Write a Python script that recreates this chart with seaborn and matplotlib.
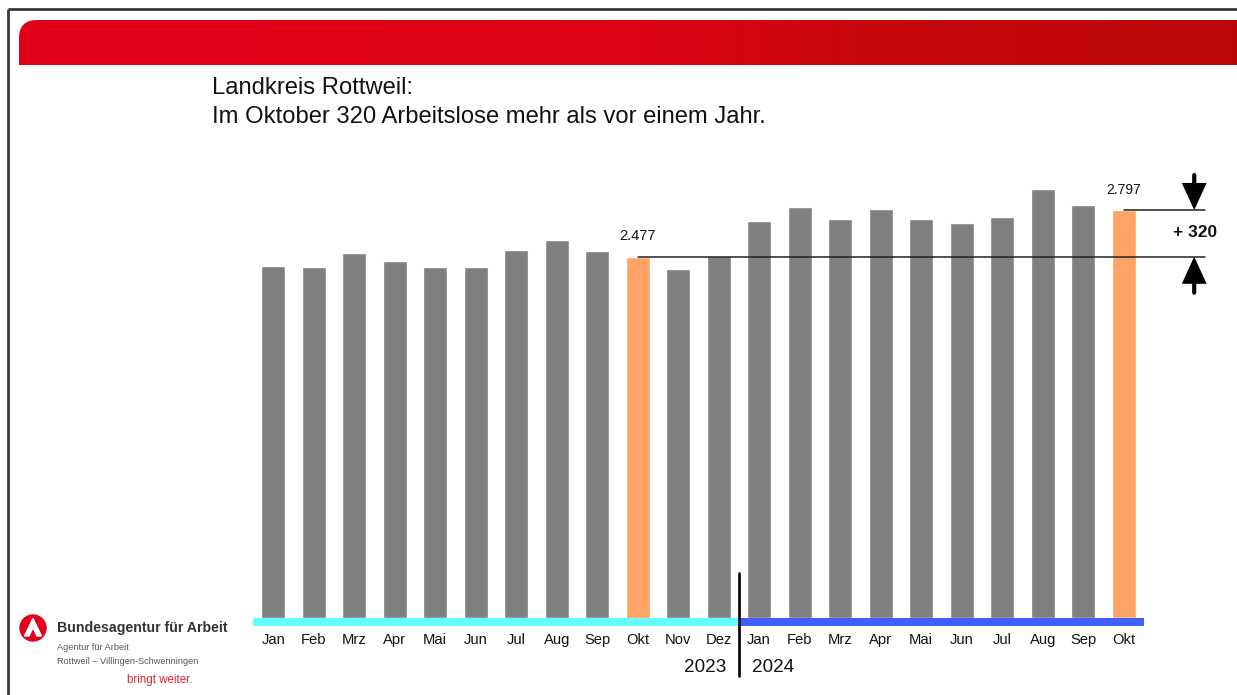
import numpy as np
import pandas as pd
import matplotlib
matplotlib.use("Agg")
import matplotlib.pyplot as plt
import seaborn as sns
from matplotlib.patches import Rectangle, Circle, PathPatch, Polygon
from matplotlib.path import Path

# ---------------- data ----------------
months_2023 = ["Jan", "Feb", "Mrz", "Apr", "Mai", "Jun", "Jul", "Aug", "Sep", "Okt", "Nov", "Dez"]
months_2024 = ["Jan", "Feb", "Mrz", "Apr", "Mai", "Jun", "Jul", "Aug", "Sep", "Okt"]
values_2023 = [2413, 2409, 2505, 2450, 2409, 2409, 2523, 2592, 2516, 2477, 2391, 2482]
values_2024 = [2722, 2820, 2736, 2804, 2736, 2706, 2749, 2939, 2832, 2797]
year_labels = ["2023", "2024"]
title_lines = ["Landkreis Rottweil:", "Im Oktober 320 Arbeitslose mehr als vor einem Jahr."]
highlight_month = "Okt"
diff_label = "+ 320"
logo_title = "Bundesagentur für Arbeit"
logo_sub = ["Agentur für Arbeit", "Rottweil \u2013 Villingen-Schwenningen"]
logo_claim = "bringt weiter."

keys = [f"{m} {year_labels[0]}" for m in months_2023] + [f"{m} {year_labels[1]}" for m in months_2024]
months = months_2023 + months_2024
values = values_2023 + values_2024
groups = ["highlight" if m == highlight_month else "normal" for m in months]
df = pd.DataFrame({"key": keys, "month": months, "value": values, "group": groups})

okt_prev = values_2023[months_2023.index(highlight_month)]
okt_curr = values_2024[months_2024.index(highlight_month)]
i_prev = months_2023.index(highlight_month)
i_curr = len(months_2023) + months_2024.index(highlight_month)
n2023 = len(months_2023)
n_all = len(keys)

def de_fmt(v):
    return f"{v:,}".replace(",", ".")

# ---------------- style ----------------
sns.set_theme(style="white")
plt.rcParams["font.family"] = ["Liberation Sans", "DejaVu Sans"]

W, H = 1237, 695
fig = plt.figure(figsize=(W / 100, H / 100), dpi=100)
fig.patch.set_facecolor("white")

# overlay (slide decoration) in pixel coordinates
ov = fig.add_axes([0, 0, 1, 1], zorder=0)
ov.set_xlim(0, W)
ov.set_ylim(H, 0)
ov.axis("off")

# frame
ov.plot([8, W], [9, 9], color="#3a3a3a", lw=2, solid_capstyle="butt")
ov.plot([8, 8], [9, H], color="#3a3a3a", lw=2, solid_capstyle="butt")

# red banner with rounded top-left corner and gradient
x0, y0, x1, y1, r = 19, 20, W, 65, 18
verts = [(x0, y1), (x0, y0 + r), (x0, y0), (x0 + r, y0), (x1, y0), (x1, y1), (x0, y1)]
codes = [Path.MOVETO, Path.LINETO, Path.CURVE3, Path.CURVE3, Path.LINETO, Path.LINETO, Path.CLOSEPOLY]
band_patch = PathPatch(Path(verts, codes), facecolor="none", edgecolor="none")
ov.add_patch(band_patch)
stops_x = [0.0, 0.5, 0.7, 1.0]
stops_c = np.array([[0.89, 0.0, 0.10], [0.87, 0.01, 0.08], [0.78, 0.03, 0.05], [0.74, 0.03, 0.04]])
gx = np.linspace(0, 1, 400)
grad = np.stack([np.interp(gx, stops_x, stops_c[:, k]) for k in range(3)], axis=-1)[None, :, :]
im = ov.imshow(grad, extent=(x0, x1, y1, y0), aspect="auto", interpolation="bilinear", zorder=1)
im.set_clip_path(band_patch)

# titles
ov.text(212, 88, title_lines[0], fontsize=17.1, color="#111111", va="center", ha="left")
ov.text(212, 117, title_lines[1], fontsize=17.1, color="#111111", va="center", ha="left")

# logo
ov.add_patch(Circle((33, 628), 13, color="#E2001A", zorder=3))
ov.add_patch(Polygon([(24.5, 636), (33, 618.5), (41.5, 636), (37, 636), (33, 627.5), (29, 636)],
                     closed=True, color="white", zorder=4))
ov.text(57, 628, logo_title, fontsize=10.2, fontweight="bold", color="#333333", va="center", ha="left")
ov.text(57, 648, logo_sub[0], fontsize=6.6, color="#555555", va="center", ha="left")
ov.text(57, 661, logo_sub[1], fontsize=6.6, color="#555555", va="center", ha="left")
ov.text(127, 680, logo_claim, fontsize=8.3, color="#D9263A", va="center", ha="left")

# ---------------- bar chart ----------------
unit_per_px = 6.856
ymax = 3000
base_px = 618
ax_h = ymax / unit_per_px
ax = fig.add_axes([253 / W, (H - base_px) / H, 891 / W, ax_h / H], zorder=2)
ax.patch.set_alpha(0)

sns.barplot(data=df, x="key", y="value", hue="group", order=keys,
            palette={"normal": "#808080", "highlight": "#FFA366"},
            dodge=False, width=0.59, saturation=1, legend=False, ax=ax)

ax.set_xlim(-0.5, n_all - 0.5)
ax.set_ylim(0, ymax)
for s in ax.spines.values():
    s.set_visible(False)
ax.set_yticks([])
ax.set_xticks(range(n_all))
ax.set_xticklabels(months, fontsize=10.6, color="#111111")
ax.tick_params(axis="x", length=0, pad=10.5)
ax.set_xlabel("")
ax.set_ylabel("")

band_h = 8 * unit_per_px
ax.add_patch(Rectangle((-0.5, -band_h), n2023, band_h, color="#66FFFF", clip_on=False, lw=0, zorder=3))
ax.add_patch(Rectangle((n2023 - 0.5, -band_h), n_all - n2023, band_h, color="#3F5FFF", clip_on=False, lw=0, zorder=3))

# year separator
sep_x = n2023 - 0.5
ax.plot([sep_x, sep_x], [45 * unit_per_px, -58 * unit_per_px], color="black", lw=1.9, clip_on=False, zorder=5)
ax.text(sep_x - 0.3, -50 * unit_per_px, year_labels[0], fontsize=13.6, ha="right", va="center", color="#111111")
ax.text(sep_x + 0.32, -50 * unit_per_px, year_labels[1], fontsize=13.6, ha="left", va="center", color="#111111")

# reference lines
x_end = n_all + 1.0
ax.plot([i_prev, x_end], [okt_prev, okt_prev], color="#222222", lw=1.1, clip_on=False, zorder=6)
ax.plot([i_curr, x_end], [okt_curr, okt_curr], color="#222222", lw=1.1, clip_on=False, zorder=6)

# value labels
ax.text(i_prev, okt_prev + 14 * unit_per_px, de_fmt(okt_prev), fontsize=10.5, ha="center", va="bottom", color="#111111")
ax.text(i_curr, okt_curr + 13 * unit_per_px, de_fmt(okt_curr), fontsize=10, ha="center", va="bottom", color="#111111")

# arrows and difference
ax_x = n_all + 0.74
arrow_style = dict(arrowstyle="-|>,head_length=0.72,head_width=0.33", color="black", lw=3.0,
                   mutation_scale=20, shrinkA=0, shrinkB=0, joinstyle="miter")
ax.annotate("", xy=(ax_x, okt_curr), xytext=(ax_x, okt_curr + 35 * unit_per_px),
            arrowprops=arrow_style, annotation_clip=False)
ax.annotate("", xy=(ax_x, okt_prev), xytext=(ax_x, okt_prev - 36 * unit_per_px),
            arrowprops=arrow_style, annotation_clip=False)
ax.text(ax_x + 0.03, (okt_prev + okt_curr) / 2 + 1 * unit_per_px, diff_label, fontsize=12.5, fontweight="bold",
        ha="center", va="center", color="#111111")

fig.savefig("out.png", dpi=100, facecolor="white")
